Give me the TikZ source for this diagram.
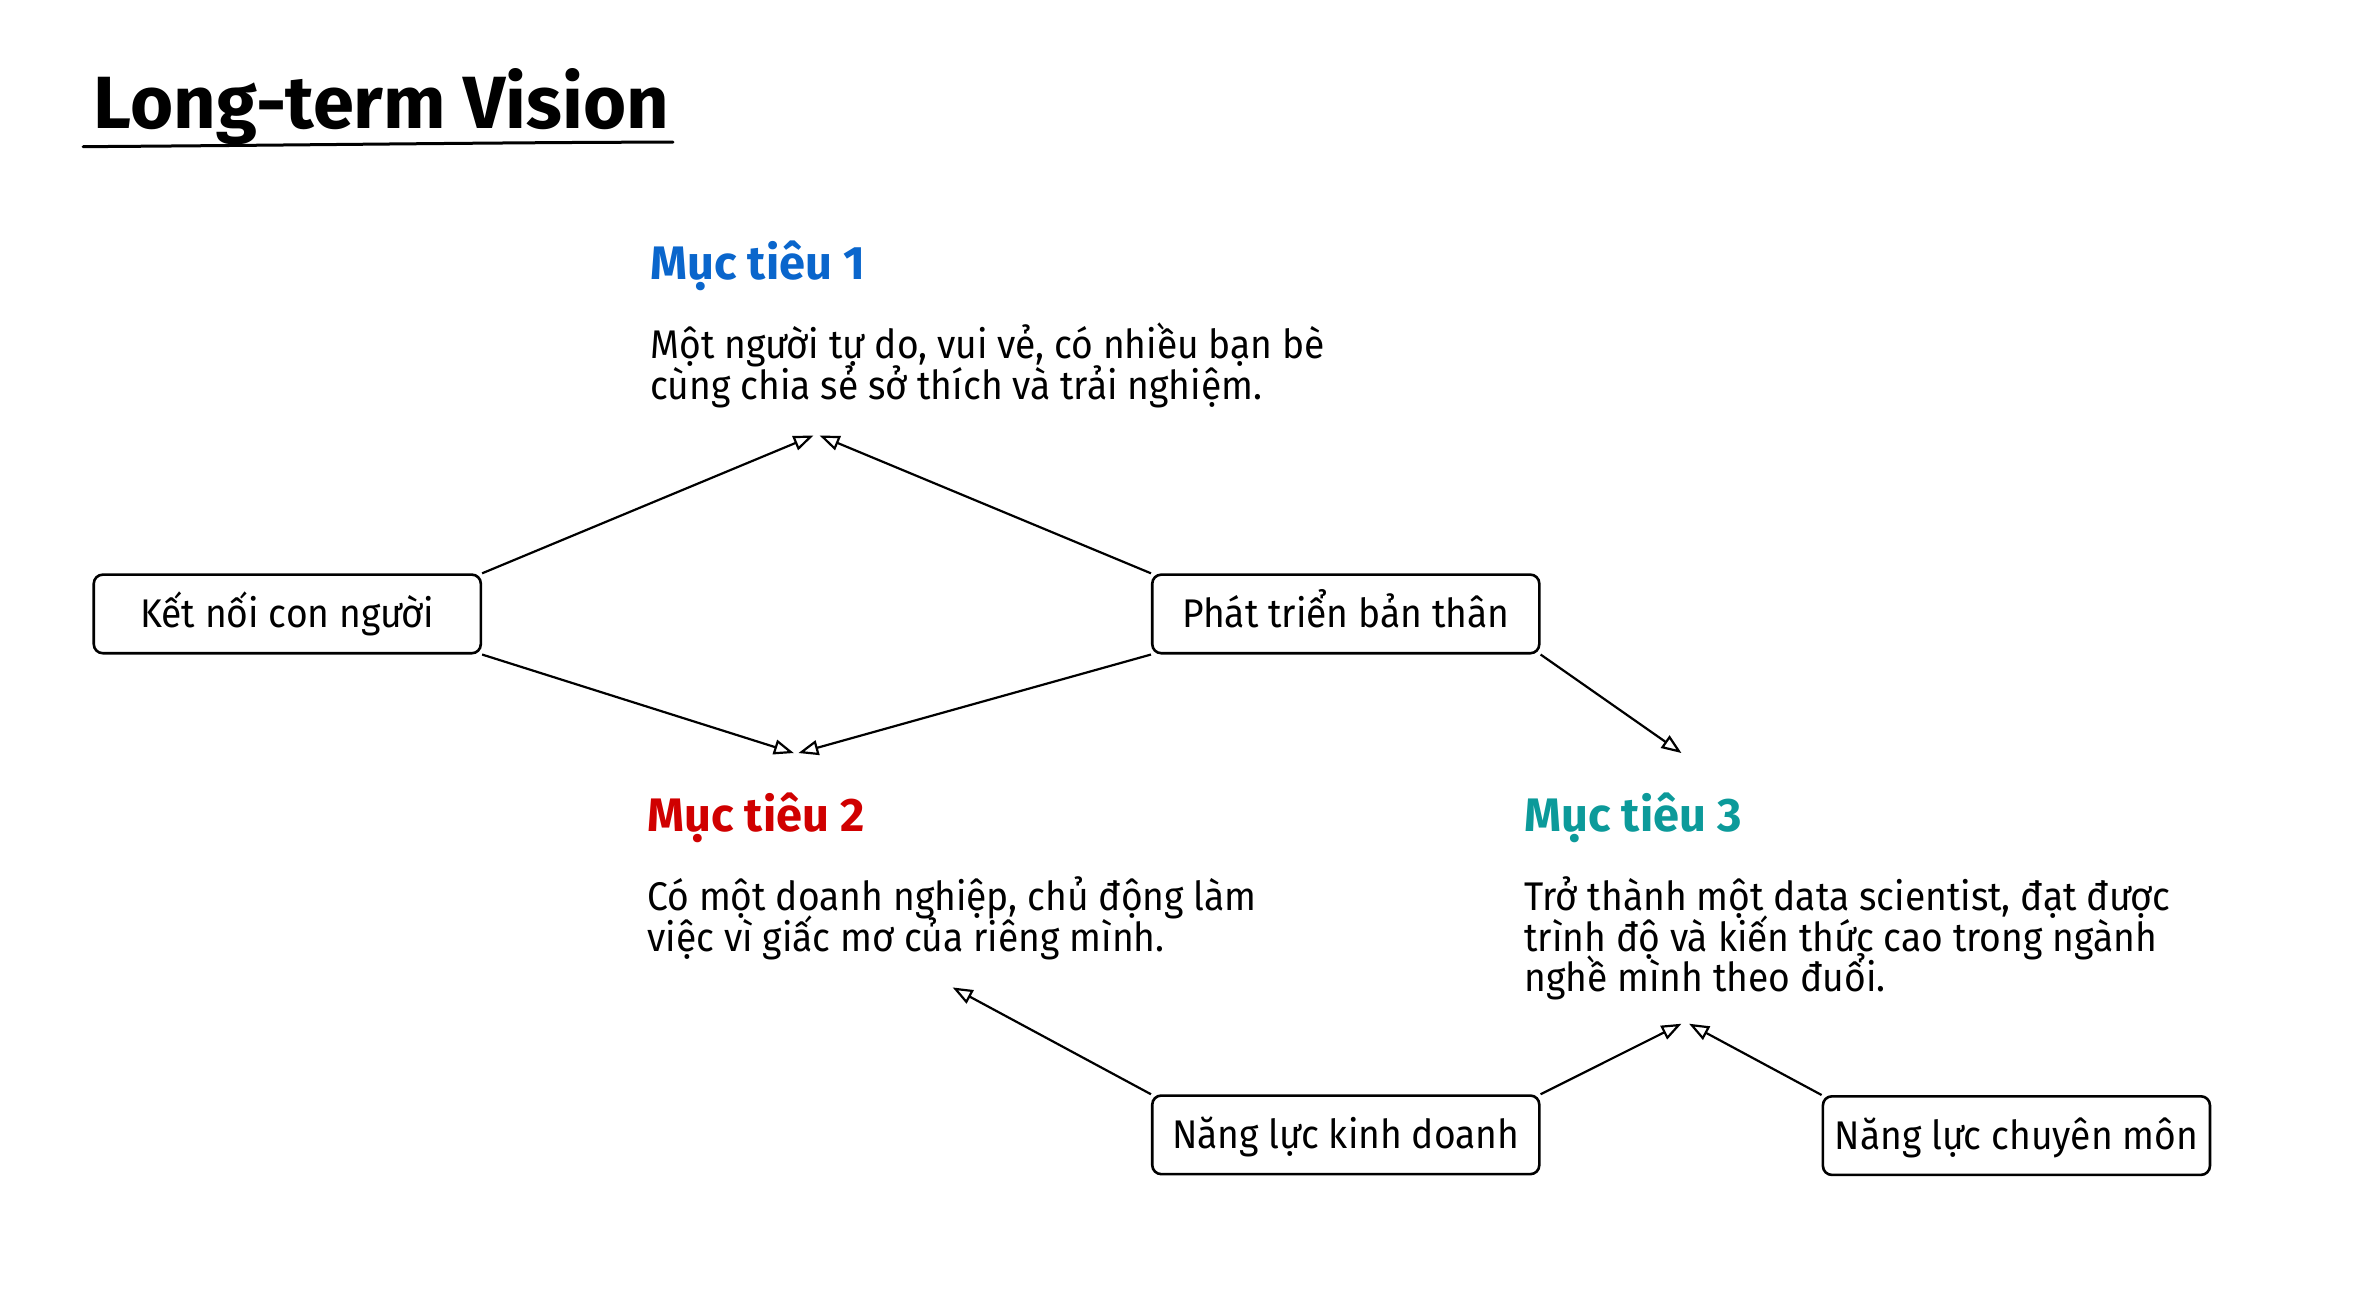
\documentclass[tikz,border=0pt]{standalone}
\usepackage{fontspec}
\setmainfont{Fira Sans}
\newfontfamily\handfont{Fira Sans}[FakeStretch=0.93]
\usepgflibrary{arrows.meta}
\usetikzlibrary{positioning}
\definecolor{goalblue}{HTML}{0A66CC}
\definecolor{goalred}{HTML}{D00000}
\definecolor{goalteal}{HTML}{0C9A9A}
\newcommand{\desctext}{\handfont\fontsize{40}{40.8}\selectfont\setlength{\lineskiplimit}{-50pt}}
\tikzset{
  box/.style={draw, line width=2.6pt, rounded corners=9pt, minimum width=387pt,
    minimum height=78.6pt, inner sep=0pt, text height=36pt, text depth=8.8pt,
    font=\handfont\fontsize{40}{45}\selectfont},
  goal/.style={anchor=base west, inner sep=0pt, font=\bfseries\fontsize{47}{54}\selectfont},
  desc/.style={anchor=base west, inner sep=0pt, align=left, font=\desctext},
  link/.style={line width=2.2pt, -{Triangle[open,length=20pt,width=15pt,line width=2.2pt]}},
}

\begin{document}
\begin{tikzpicture}[x=1.512pt,y=-1.512pt]
  \useasboundingbox (0,0) rectangle (1568,852.5);
  \pgfmathsetmacro{\xa}{430}
  \pgfmathsetmacro{\xb}{1008}
  \pgfmathsetmacro{\ya}{185}
  \pgfmathsetmacro{\yb}{550}
  \pgfmathsetmacro{\dy}{52}
  \pgfmathsetmacro{\ls}{27}

  % title
  \node[anchor=base west, inner sep=0pt, font=\bfseries\fontsize{74}{80}\selectfont]
    (title) at (62, 85) {Long-term Vision};
  \draw[line width=3pt, line cap=round] (55, 97) .. controls (200, 96) and (350, 94) .. (445, 94);

  % goals (desc nodes sit on their last baseline)
  \node[goal, goalblue] (headone) at (\xa, \ya) {Mục tiêu 1};
  \node[desc] (descone) at (\xa, \ya+\dy+\ls) {Một người tự do, vui vẻ, có nhiều bạn bè\\cùng chia sẻ sở thích và trải nghiệm.};
  \node[goal, goalred] (headtwo) at (\xa-2, \yb) {Mục tiêu 2};
  \node[desc] (desctwo) at (\xa-2, \yb+\dy+\ls) {Có một doanh nghiệp, chủ động làm\\việc vì giấc mơ của riêng mình.};
  \node[goal, goalteal] (headthree) at (\xb, \yb) {Mục tiêu 3};
  \node[desc] (descthree) at (\xb, \yb+\dy+2*\ls) {Trở thành một data scientist, đạt được\\trình độ và kiến thức cao trong ngành\\nghề mình theo đuổi.};

  % boxes
  \node[box] (connect) at (190, 406) {Kết nối con người};
  \node[box] (growth) at (890, 406) {Phát triển bản thân};
  \node[box] (business) at (890, 750.5) {Năng lực kinh doanh};
  \node[box] (expertise) at (1333.5, 751) {Năng lực chuyên môn};

  % arrow tips
  \coordinate (tipa) at (538, 288);
  \coordinate (tipb) at (542, 288);
  \coordinate (tipc) at (525, 498);
  \coordinate (tipd) at (528, 498);
  \coordinate (tipe) at (1112, 498);
  \coordinate (tipf) at (630, 653);
  \coordinate (tipg) at (1112, 677);
  \coordinate (tiph) at (1117, 677);

  \draw[link] (connect.north east) -- (tipa);
  \draw[link] (growth.north west) -- (tipb);
  \draw[link] (connect.south east) -- (tipc);
  \draw[link] (growth.south west) -- (tipd);
  \draw[link] (growth.south east) -- (tipe);
  \draw[link] (business.north west) -- (tipf);
  \draw[link] (business.north east) -- (tipg);
  \draw[link] (expertise.north west) -- (tiph);
\end{tikzpicture}
\end{document}
